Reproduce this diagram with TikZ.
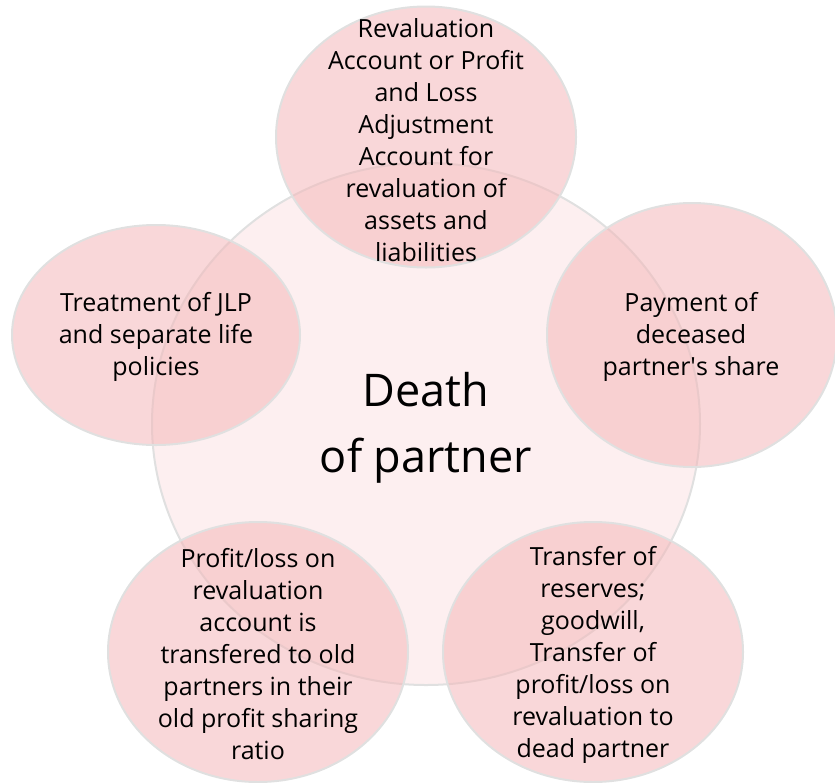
\documentclass[tikz,border=0pt]{standalone}
\usepackage{fontspec}
\setmainfont{Open Sans}
\usetikzlibrary{shapes.geometric}
\definecolor{hubfill}{RGB}{253,239,240}
\definecolor{satfill}{RGB}{244,182,184}
\definecolor{rimgray}{RGB}{224,224,224}
\tikzset{
  hub/.style={ellipse, draw=rimgray, line width=2pt, fill=hubfill, inner sep=0pt},
  sat/.style={ellipse, draw=rimgray, line width=2pt, fill=satfill, fill opacity=0.54, inner sep=0pt},
  sattext/.style={align=center, inner sep=0pt, text=black, font=\fontsize{25}{32}\selectfont},
  hubtext/.style={align=center, inner sep=0pt, text=black, font=\fontsize{45}{66}\selectfont}
}
\begin{document}
\begin{tikzpicture}[x=1pt,y=-1pt]
\useasboundingbox (0,0) rectangle (835,782);
\node[hub, minimum width=548pt, minimum height=522pt] (hub) at (426,424) {};
\node[sat, minimum width=300pt, minimum height=261pt] (top) at (426,137) {};
\node[sat, minimum width=290pt, minimum height=264pt] (right) at (692,335) {};
\node[sat, minimum width=300pt, minimum height=260pt] (botright) at (593,652) {};
\node[sat, minimum width=300pt, minimum height=260pt] (botleft) at (258,652) {};
\node[sat, minimum width=288pt, minimum height=220pt] (left) at (156,335) {};
\node[hubtext] (hubt) at (426,428) {Death\\of partner};
\node[sattext] (topt) at (426,140) {Revaluation\\Account or Profit\\and Loss\\Adjustment\\Account for\\revaluation of\\assets and\\liabilities};
\node[sattext] (rightt) at (691,337) {Payment of\\deceased\\partner\textquotesingle s share};
\node[sattext] (botrightt) at (593,655) {Transfer of\\reserves;\\goodwill,\\Transfer of\\profit/loss on\\revaluation to\\dead partner};
\node[sattext] (botleftt) at (258,654) {Profit/loss on\\revaluation\\account is\\transfered to old\\partners in their\\old profit sharing\\ratio};
\node[sattext] (leftt) at (156,337) {Treatment of JLP\\and separate life\\policies};
\end{tikzpicture}
\end{document}
